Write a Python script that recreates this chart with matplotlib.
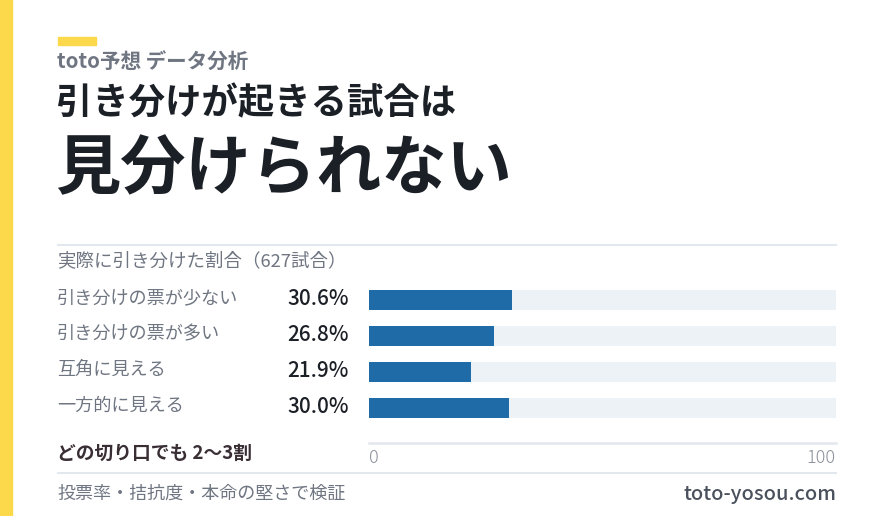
import matplotlib.pyplot as plt
from matplotlib.patches import Rectangle

plt.rcParams['font.family'] = ['Noto Sans CJK JP', 'DejaVu Sans']

# データ
categories = ['引き分けの票が少ない', '引き分けの票が多い', '互角に見える', '一方的に見える']
draw_rates = [30.6, 26.8, 21.9, 30.0]
value_labels = ['30.6%', '26.8%', '21.9%', '30.0%']
x_ticks = [0, 100]
x_tick_labels = ['0', '100']

W, H = 894, 516
YELLOW = '#fbd94b'
DARK = '#1b1f26'
GRAY = '#6f7682'
LINE = '#e3e8ef'
BAR = '#1e6ba8'
TRACK = '#edf2f7'


def fy(py):
    # 上からのピクセル位置 -> figure座標
    return 1 - py / H


def fx(px):
    return px / W


fig = plt.figure(figsize=(W / 100, H / 100), dpi=100)
fig.patch.set_facecolor('white')

# 左の黄色い帯と見出し上の短いバー
fig.patches.append(Rectangle((0, 0), fx(12), 1, transform=fig.transFigure,
                             color=YELLOW, zorder=0))
fig.patches.append(Rectangle((fx(58), fy(45)), fx(38), 8 / H, transform=fig.transFigure,
                             color=YELLOW, zorder=0))

# 見出し
fig.text(fx(57), fy(62), 'toto予想 データ分析', fontsize=14.8, fontweight='bold',
         color=GRAY, va='center', ha='left')
fig.text(fx(56), fy(104), '引き分けが起きる試合は', fontsize=26.2, fontweight='bold',
         color=DARK, va='center', ha='left')
fig.text(fx(55), fy(170), '見分けられない', fontsize=47, fontweight='bold',
         color=DARK, va='center', ha='left')

# 区切り線
for py in [245, 473]:
    fig.add_artist(plt.Line2D([fx(58), fx(836)], [fy(py), fy(py)],
                              transform=fig.transFigure, color=LINE, lw=1.5))

fig.text(fx(57), fy(261), '実際に引き分けた割合（627試合）', fontsize=13.3,
         color=GRAY, va='center', ha='left')

# 棒グラフ
ax = fig.add_axes([fx(369), fy(443), fx(836) - fx(369), (443 - 282) / H])
ypos = list(range(len(categories)))
ax.barh(ypos, [100] * len(categories), height=0.56, color=TRACK, zorder=1)
ax.barh(ypos, draw_rates, height=0.56, color=BAR, zorder=2)
ax.set_xlim(0, 100)
ax.set_ylim(3.97, -0.5)
ax.set_yticks([])
ax.set_xticks(x_ticks)
ax.set_xticklabels(x_tick_labels)
ax.tick_params(axis='x', length=0, pad=4, labelsize=13, labelcolor='#8b909a')
labels = ax.get_xticklabels()
for lab in labels:
    lab.set_fontweight('light')
labels[0].set_ha('left')
labels[-1].set_ha('right')
for s in ['top', 'left', 'right']:
    ax.spines[s].set_visible(False)
ax.spines['bottom'].set_color(LINE)
ax.spines['bottom'].set_linewidth(1.8)
ax.set_facecolor('none')

# 行ラベルと値
for i, (cat, val) in enumerate(zip(categories, value_labels)):
    py = 298 + 36 * i
    fig.text(fx(57), fy(py), cat, fontsize=13.1, color=GRAY, va='center', ha='left')
    fig.text(fx(349), fy(py + 1), val, fontsize=15, fontweight='medium', color=DARK,
             va='center', ha='right')

fig.text(fx(57), fy(453), 'どの切り口でも 2〜3割', fontsize=13.5, fontweight='bold',
         color='#3a2e35', va='center', ha='left')

# フッター
fig.text(fx(57), fy(494), '投票率・拮抗度・本命の堅さで検証', fontsize=13,
         color=GRAY, va='center', ha='left')
fig.text(fx(836), fy(494), 'toto-yosou.com', fontsize=14.4, fontweight='medium',
         color='#4a515c', va='center', ha='right')

fig.savefig('out.png', dpi=100, facecolor='white')
